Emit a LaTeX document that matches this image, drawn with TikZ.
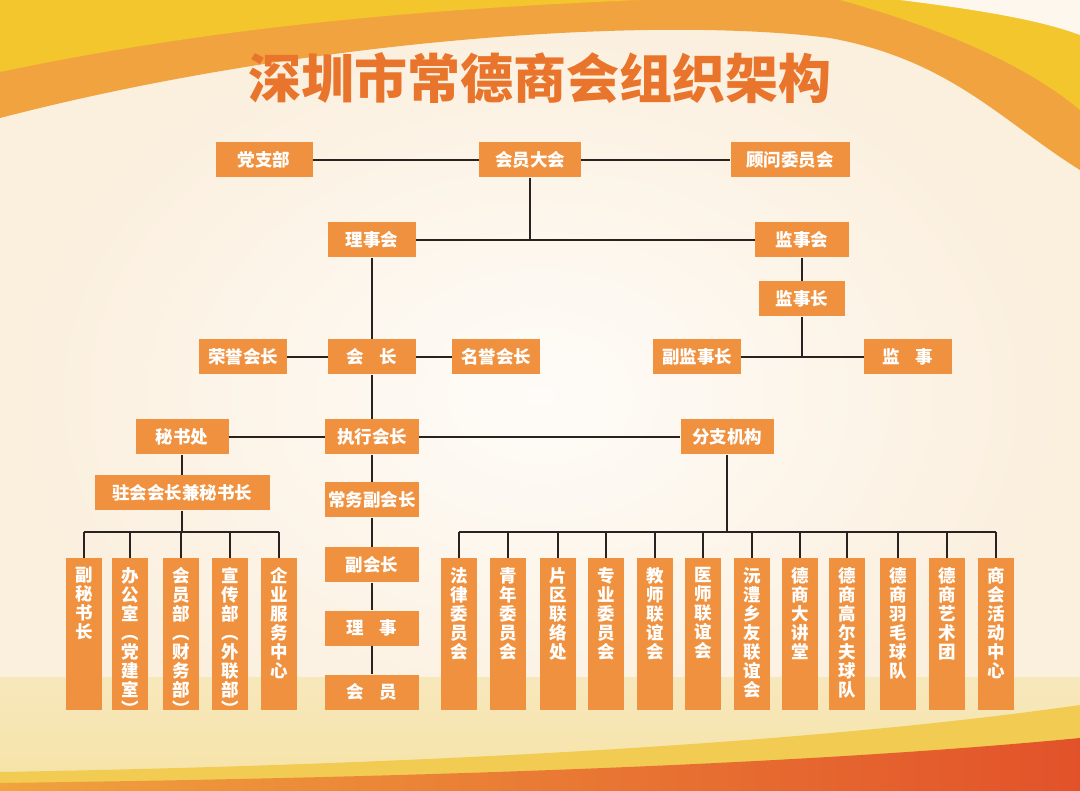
\documentclass[tikz,border=0pt]{standalone}
\usepackage{fontspec}
\setmainfont{Noto Sans CJK SC}
\usetikzlibrary{calc}

\definecolor{boxorange}{HTML}{F0913F}
\definecolor{titleorange}{HTML}{E9742B}
\definecolor{cream}{HTML}{FBEFDD}
\definecolor{bandyellow}{HTML}{F3C62E}
\definecolor{bandorange}{HTML}{F0A33E}
\definecolor{paleyellow}{HTML}{F5E3A6}
\definecolor{gold}{HTML}{F1CB52}
\definecolor{deepred}{HTML}{E2522A}
\definecolor{linkgray}{HTML}{2A2220}

\begin{document}
\begin{tikzpicture}[x=1pt, y=-1pt,
    box/.style={fill=boxorange, text=white, font=\fontsize{17.5}{20}\selectfont\bfseries, minimum height=35pt, minimum width=88pt, inner sep=0pt},
    col/.style={fill=boxorange, minimum width=36pt, minimum height=152pt, anchor=north, inner sep=0pt},
    coltext/.style={anchor=north, yshift=-9pt, text=white, font=\fontsize{17.5}{19}\selectfont\bfseries, align=center, inner sep=0pt},
    link/.style={line width=2.5pt, draw=linkgray}]
    \useasboundingbox (0,0) rectangle (1080,791);

    % background
    \shade[inner color=white!80!cream, outer color=cream] (0,0) rectangle (1080,791);
    \fill[bandorange] (0,0) -- (1080,0) -- (1080,170) .. controls (1000,120) and (950,60) .. (830,38) .. controls (650,15) and (300,40) .. (0,118) -- cycle;
    \fill[bandyellow] (0,0) -- (640,0) .. controls (400,10) and (200,30) .. (0,72) -- cycle;
    \fill[bandyellow] (840,0) .. controls (930,25) and (1020,60) .. (1080,110) -- (1080,0) -- cycle;
    \fill[cream!50!white] (900,0) .. controls (980,10) and (1040,20) .. (1080,35) -- (1080,0) -- cycle;
    \fill[top color=paleyellow!60!cream, bottom color=paleyellow] (0,677) rectangle (1080,791);
    \fill[gold] (0,772) .. controls (400,765) and (800,745) .. (1080,705) -- (1080,791) -- (0,791) -- cycle;
    \shade[left color=bandorange, right color=deepred] (0,783) .. controls (400,778) and (800,765) .. (1080,738) -- (1080,791) -- (0,791) -- cycle;

    % title
    \node[text=titleorange, font=\fontsize{53}{58}\selectfont\bfseries] (title) at (540,78) {深圳市常德商会组织架构};

    % upper levels
    \node[box, minimum width=97pt] (dzb) at (264,160) {党支部};
    \node[box, minimum width=102pt] (hydh) at (530,160) {会员大会};
    \node[box, minimum width=119pt] (gwwyh) at (790,160) {顾问委员会};
    \node[box] (lsh) at (372,240) {理事会};
    \node[box, minimum width=94pt] (jsh) at (802,240) {监事会};
    \node[box, minimum width=86pt] (jsz) at (802,299) {监事长};
    \node[box] (fjsz) at (697,357) {副监事长};
    \node[box] (js) at (908,357) {监\hspace{0.9em}事};
    \node[box] (hz) at (372,357) {会\hspace{0.9em}长};
    \node[box] (ryhz) at (243,357) {荣誉会长};
    \node[box] (myhz) at (496,357) {名誉会长};
    \node[box, minimum width=93pt] (msc) at (182,437) {秘书处};
    \node[box, minimum width=94pt] (zxhz) at (372,437) {执行会长};
    \node[box, minimum width=93pt] (fzjg) at (727,437) {分支机构};
    \node[box, minimum width=175pt] (zhhz) at (182,493) {驻会会长兼秘书长};
    \node[box, minimum width=94pt] (cwfhz) at (372,500) {常务副会长};
    \node[box, minimum width=94pt] (fhz) at (372,565) {副会长};
    \node[box, minimum width=94pt] (ls) at (372,628) {理\hspace{0.9em}事};
    \node[box, minimum width=94pt] (hy) at (372,692) {会\hspace{0.9em}员};

    % secretariat columns
    \node[col, label={[coltext]north:{副\\秘\\书\\长}}] (fmsz) at (84,558) {};
    \node[col, label={[coltext]north:{办\\公\\室\\︵\\党\\建\\室\\︶}}] (bgs) at (130,558) {};
    \node[col, label={[coltext]north:{会\\员\\部\\︵\\财\\务\\部\\︶}}] (hyb) at (181,558) {};
    \node[col, label={[coltext]north:{宣\\传\\部\\︵\\外\\联\\部\\︶}}] (xcb) at (230,558) {};
    \node[col, label={[coltext]north:{企\\业\\服\\务\\中\\心}}] (qyfw) at (279,558) {};

    % branch columns
    \node[col, label={[coltext]north:{法\\律\\委\\员\\会}}] (flwy) at (459,558) {};
    \node[col, label={[coltext]north:{青\\年\\委\\员\\会}}] (qnwy) at (508,558) {};
    \node[col, label={[coltext]north:{片\\区\\联\\络\\处}}] (pqll) at (558,558) {};
    \node[col, label={[coltext]north:{专\\业\\委\\员\\会}}] (zywy) at (606,558) {};
    \node[col, label={[coltext]north:{教\\师\\联\\谊\\会}}] (jslyh) at (655,558) {};
    \node[col, label={[coltext]north:{医\\师\\联\\谊\\会}}] (yslyh) at (703,558) {};
    \node[col, label={[coltext]north:{沅\\澧\\乡\\友\\联\\谊\\会}}] (ylxy) at (752,558) {};
    \node[col, label={[coltext]north:{德\\商\\大\\讲\\堂}}] (dsdjt) at (800,558) {};
    \node[col, label={[coltext]north:{德\\商\\高\\尔\\夫\\球\\队}}] (dsgef) at (847,558) {};
    \node[col, label={[coltext]north:{德\\商\\羽\\毛\\球\\队}}] (dsym) at (898,558) {};
    \node[col, label={[coltext]north:{德\\商\\艺\\术\\团}}] (dsys) at (947,558) {};
    \node[col, label={[coltext]north:{商\\会\\活\\动\\中\\心}}] (shhd) at (996,558) {};

    \coordinate (lbus) at (182,532);
    \coordinate (rbus) at (727,532);

    % connectors
    \draw[link] (dzb) -- (hydh);
    \draw[link] (hydh) -- (gwwyh);
    \draw[link] (hydh) -- (hydh |- lsh);
    \draw[link] (lsh) -- (jsh);
    \draw[link] (jsh) -- (jsz);
    \draw[link] (jsz) -- (jsz |- fjsz);
    \draw[link] (fjsz) -- (js);
    \draw[link] (lsh) -- (hz);
    \draw[link] (ryhz) -- (hz);
    \draw[link] (hz) -- (myhz);
    \draw[link] (hz) -- (zxhz);
    \draw[link] (msc) -- (zxhz);
    \draw[link] (zxhz) -- (fzjg);
    \draw[link] (zxhz) -- (cwfhz);
    \draw[link] (cwfhz) -- (fhz);
    \draw[link] (fhz) -- (ls);
    \draw[link] (ls) -- (hy);
    \draw[link] (msc) -- (zhhz);
    \draw[link] (zhhz) -- (lbus);
    \draw[link] (fmsz.north |- lbus) -- (qyfw.north |- lbus);
    \draw[link] (fmsz) -- (fmsz |- lbus) (bgs) -- (bgs |- lbus) (hyb) -- (hyb |- lbus)
        (xcb) -- (xcb |- lbus) (qyfw) -- (qyfw |- lbus);
    \draw[link] (fzjg) -- (rbus);
    \draw[link] (flwy.north |- rbus) -- (shhd.north |- rbus);
    \draw[link] (flwy) -- (flwy |- rbus) (qnwy) -- (qnwy |- rbus) (pqll) -- (pqll |- rbus)
        (zywy) -- (zywy |- rbus) (jslyh) -- (jslyh |- rbus) (yslyh) -- (yslyh |- rbus)
        (ylxy) -- (ylxy |- rbus) (dsdjt) -- (dsdjt |- rbus) (dsgef) -- (dsgef |- rbus)
        (dsym) -- (dsym |- rbus) (dsys) -- (dsys |- rbus) (shhd) -- (shhd |- rbus);
\end{tikzpicture}
\end{document}
